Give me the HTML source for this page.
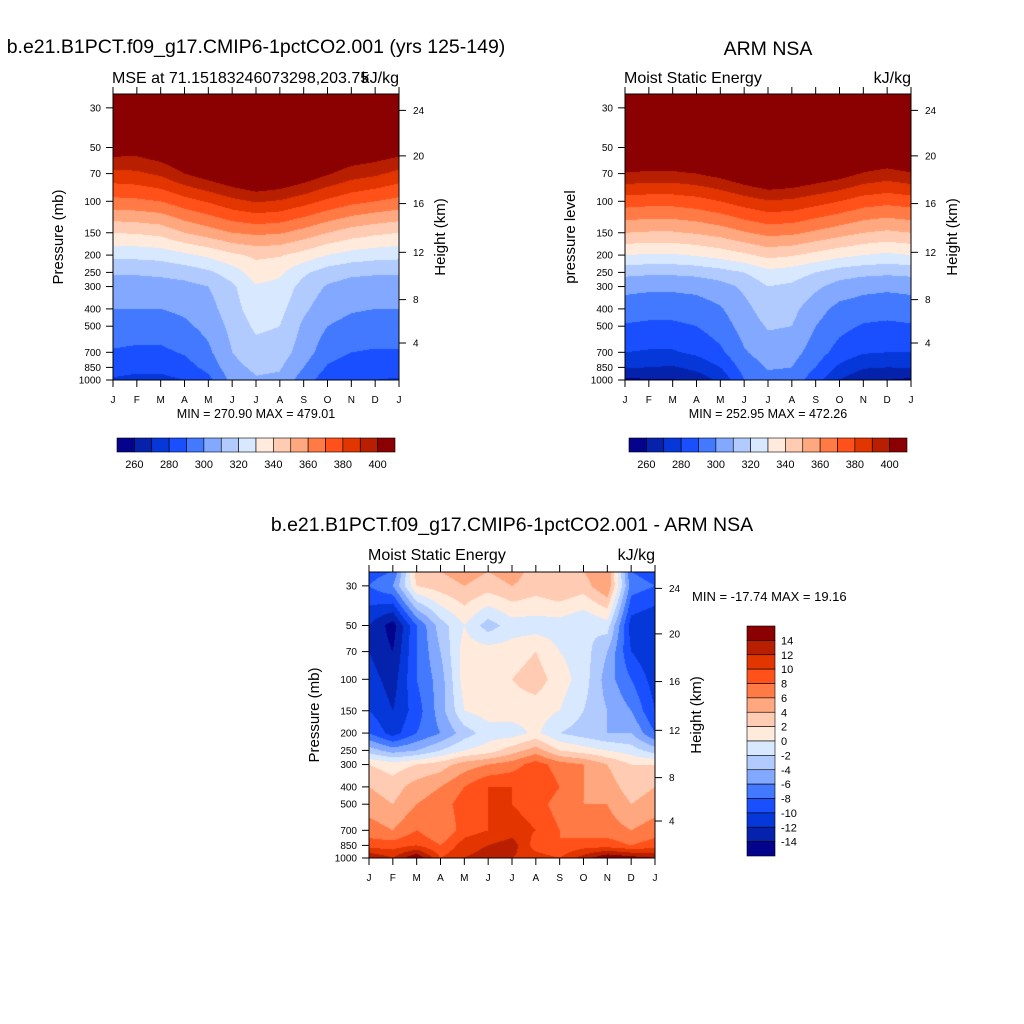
<!DOCTYPE html>
<html><head><meta charset="utf-8"><style>
html,body{margin:0;padding:0;background:#fff;width:1024px;height:1024px;overflow:hidden}
#root{position:relative;width:1024px;height:1024px}
canvas{position:absolute}
svg{position:absolute;left:0;top:0}
text{font-family:"Liberation Sans",sans-serif;fill:#000}
</style></head><body>
<div id="root">
<canvas id="c1" width="286" height="286" style="left:113px;top:94px"></canvas>
<canvas id="c2" width="286" height="286" style="left:625px;top:94px"></canvas>
<canvas id="c3" width="286" height="286" style="left:369px;top:572px"></canvas>
<svg id="ov" width="1024" height="1024"></svg>
</div>
<script>
// ---- data ----
const months = ["J","F","M","A","M","J","J","A","S","O","N","D","J"];
const levels = [1000,850,700,500,400,300,250,200,150,100,70,50,30,25];
const pTicks = [30,50,70,100,150,200,250,300,400,500,700,850,1000];
const hTicks = [24,20,16,12,8,4];
const hTickP = [31,55.7,103,193,355,621];
const absBounds = [260,270,280,290,300,310,320,330,340,350,360,370,380,390,400];
const absLabels = [260,280,300,320,340,360,380,400];
const diffBounds = [-14,-12,-10,-8,-6,-4,-2,0,2,4,6,8,10,12,14];
const colors = ["#03038c","#0522ad","#0637d9","#1a4fff","#4279ff","#82a8ff","#b1cbff","#d8e8ff","#ffeadb","#ffcbb2","#ffa77f","#ff7a45","#ff5119","#e23500","#b71f00","#8b0000"];
// model rows (one per level, J..J)
const model = [
[279,277,277,280,287,303,309,308,295,284,281,280,279],
[284,283,283,286,293,307,312,311,300,289,285,284,284],
[289,288,288,291,298,310,316,315,305,294,290,289,289],
[296,295,295,298,303,313,322,320,308,300,297,296,296],
[300,300,300,302,306,316,325.5,323,312,304,301,300,300],
[306,306,306,307,310,318,329,327,316,309,306,306,306],
[311,311,312,314,318,325,335,332,322,315,312,311,311],
[323,323,324,328,332,338,342,341,336,330,326,324,323],
[340,341,343,350,355,360,362,361,356,350,345,342,340],
[367,368,370,376,381,387,391,389,384,378,373,370,367],
[387,388,392,400,406,412,417,414,408,401,395,392,387],
[407,406,410,414,418,422,430,427,422,417,412,410,407],
[450,450,452,455,458,462,465,463,460,456,453,451,450],
[460,460,462,465,468,470,472,470,468,466,463,461,460]];
const obs = [
[258,259,259,264,272,290,296,296,284,270,262,260,258],
[270.5,270,269,273,280,294,301,300,290,278,271,270,270.5],
[280,279,279,282,288,299,305,304,295,286,281,280,280],
[289,288,288,290,295,304,311,310,300,293,289,288,289],
[295,294,294,295,299,307,315,313,304,297,295,294,295],
[303,302,302,303,306,312,320,318,312,306,303,302,303],
[313,312,312,313,316,320,327,325,320,315,313,312,313],
[330,329,329,331,334,338,343,341,337,333,330,328,330],
[350,349,349,351,354,359,363,362,358,354,350,348,350],
[375,374,374,376,380,385,389,388,384,380,375,373,375],
[399,398,398,400,404,410,415.5,413,409,405,399,396,399],
[420,418,418,420,423,427,430,429,426,423,418,416,420],
[450,448,447,448,450,455,458,456,455,451,447,445,450],
[460,458,457,458,460,465,468,466,465,461,457,455,460]];
const diff = [
[14,12,16,10,12,13,12,11,10,13,16,15,14],
[9,9,10,8,11,12,13,9,8,9,9,8,9],
[7,6,8,6,9,10,11,10,8,7,7,6,7],
[5,4,6,7,9,10,10,9,7,6,6,4,5],
[4,3,5,6,8,10,10,10,8,6,5,3,4],
[2,1,2,3,5,6,7,9,7,6,4,2,2],
[-3,-5,-4,-2,0,1,3,5,2,1,0,-1,-3],
[-8,-11,-8,-6,-3,-1,-1,0.5,-2,-3,-4,-4,-8],
[-10,-12,-9,-5,0,1,1,1,0,-2,-4,-6,-10],
[-11,-13,-8,-5,1,1,2,3,1,-1,-5,-8,-11],
[-12,-14,-8,-4,1,1,1,2,0,-1,-4,-10,-12],
[-12,-15,-8,-3,0,-3,-1,-1,-1,-2,-1,-11,-12],
[-8,-6,2,3,4,3,4,3,4,3,6,-7,-8],
[-9,-8,3,4,5,4,5,3,4,4,6,-8,-9]];

// ---- scales ----
const W=286,H=286, PTOP=25.1, PBOT=1000;
function yOfP(p){return H*(Math.log(p)-Math.log(PTOP))/(Math.log(PBOT)-Math.log(PTOP));}
function xOfM(i){return W*i/12;}
function valueAt(grid,mx,lp){
  let i=Math.min(11,Math.floor(mx)), fx=mx-i;
  let lls=levels.map(Math.log);
  let k=0; while(k<levels.length-2 && lp<lls[k+1]) k++;
  let fy=(lls[k]-lp)/(lls[k]-lls[k+1]); fy=Math.max(0,Math.min(1,fy));
  let a=grid[k][i]*(1-fx)+grid[k][i+1]*fx, b=grid[k+1][i]*(1-fx)+grid[k+1][i+1]*fx;
  return a*(1-fy)+b*fy;
}
function bin(v,b){let k=0;while(k<b.length&&v>=b[k])k++;return k;}
function hex(c){return [parseInt(c.slice(1,3),16),parseInt(c.slice(3,5),16),parseInt(c.slice(5,7),16)];}
const rgb=colors.map(hex);
function draw(id,grid,bounds){
  const ctx=document.getElementById(id).getContext('2d');
  const img=ctx.createImageData(W,H);
  for(let y=0;y<H;y++){
    const lp=Math.log(PTOP)+(y+0.5)/H*(Math.log(PBOT)-Math.log(PTOP));
    for(let x=0;x<W;x++){
      const c=rgb[bin(valueAt(grid,(x+0.5)/W*12,lp),bounds)];
      const o=(y*W+x)*4; img.data[o]=c[0];img.data[o+1]=c[1];img.data[o+2]=c[2];img.data[o+3]=255;
    }
  }
  ctx.putImageData(img,0,0);
}
draw('c1',model,absBounds);draw('c2',obs,absBounds);draw('c3',diff,diffBounds);

// ---- svg annotations ----
const NS="http://www.w3.org/2000/svg", ov=document.getElementById('ov');
function el(t,a,txt){const e=document.createElementNS(NS,t);for(const k in a)e.setAttribute(k,a[k]);if(txt!==undefined)e.textContent=txt;ov.appendChild(e);return e;}
function axes(ox,oy,ylab,tag){
  let f=el('rect',{x:ox,y:oy,width:W,height:H,fill:'none',stroke:'#000','stroke-width':1});
  
  
  pTicks.forEach(p=>{const y=oy+yOfP(p);
    el('line',{x1:ox-7,x2:ox,y1:y,y2:y,stroke:'#000'});
    let t=el('text',{x:ox-12,y:y+3.5,'font-size':10,'text-anchor':'end'},p);
    
    });
  hTicks.forEach((h,i)=>{const y=oy+yOfP(hTickP[i]);
    el('line',{x1:ox+W,x2:ox+W+7,y1:y,y2:y,stroke:'#000'});
    let t=el('text',{x:ox+W+14,y:y+3.5,'font-size':10},h);
    
    });
  months.forEach((m,i)=>{const x=ox+xOfM(i);
    el('line',{x1:x,x2:x,y1:oy-7,y2:oy,stroke:'#000'});
    el('line',{x1:x,x2:x,y1:oy+H,y2:oy+H+7,stroke:'#000'});
    let t=el('text',{x:x,y:oy+H+23,'font-size':10,'text-anchor':'middle'},m);
    
    });
  let yl=el('text',{x:0,y:0,'font-size':15,'text-anchor':'middle',transform:`translate(${ox-50},${oy+143}) rotate(-90)`},ylab);
  
  
  let hl=el('text',{x:0,y:0,'font-size':15,'text-anchor':'middle',transform:`translate(${ox+W+46},${oy+143}) rotate(-90)`},'Height (km)');
  
  
}
axes(113,94,'Pressure (mb)','model');
axes(625,94,'pressure level','obs');
axes(369,572,'Pressure (mb)','diff');
function txt(x,y,s,size,anchor,name){let t=el('text',{x:x,y:y,'font-size':size,'text-anchor':anchor||'start'},s);
  
  }
txt(256,53,'b.e21.B1PCT.f09_g17.CMIP6-1pctCO2.001 (yrs 125-149)',19.5,'middle','model-title');
txt(112,83,'MSE at 71.15183246073298,203.75',16,'start','model-subtitle');
txt(399,83,'kJ/kg',16,'end','model-units');
txt(256,418,'MIN = 270.90 MAX = 479.01',12.5,'middle','model-min-max');
txt(768,55,'ARM NSA',19.5,'middle','obs-title');
txt(624,83,'Moist Static Energy',16,'start','obs-subtitle');
txt(911,83,'kJ/kg',16,'end','obs-units');
txt(768,418,'MIN = 252.95 MAX = 472.26',12.5,'middle','obs-min-max');
txt(512,531,'b.e21.B1PCT.f09_g17.CMIP6-1pctCO2.001 - ARM NSA',19.5,'middle','diff-title');
txt(368,560,'Moist Static Energy',16,'start','diff-subtitle');
txt(655,560,'kJ/kg',16,'end','diff-units');
txt(692,601,'MIN = -17.74 MAX =  19.16',13,'start','diff-min-max');
// horizontal colorbars
function hbar(x0,y0,w,tag){const bw=w/16;
  colors.forEach((c,i)=>{let r=el('rect',{x:x0+i*bw,y:y0,width:bw,height:14,fill:c,stroke:'#000','stroke-width':0.6});
    
    });
  absBounds.forEach((b,i)=>{if(absLabels.indexOf(b)<0)return;
    let t=el('text',{x:x0+(i+1)*bw,y:y0+30,'font-size':11,'text-anchor':'middle'},b);
    
    });
}
hbar(117,438,278,'model');hbar(629,438,278,'obs');
// vertical colorbar
(function(){const x0=747,y0=626,h=230/16;
  colors.slice().reverse().forEach((c,i)=>{let r=el('rect',{x:x0,y:y0+i*h,width:28,height:h,fill:c,stroke:'#000','stroke-width':0.6});
    
    });
  diffBounds.slice().reverse().forEach((b,i)=>{let t=el('text',{x:x0+34,y:y0+(i+1)*h+4,'font-size':11},b);
    
    });
})();
</script>
</body></html>
